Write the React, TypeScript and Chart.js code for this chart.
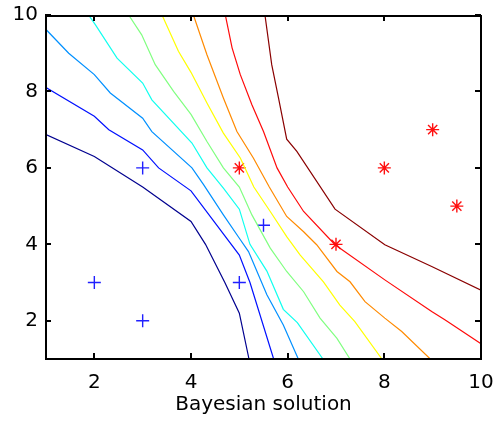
import React, { useEffect, useRef } from "react";
import { Chart, registerables } from "chart.js";

Chart.register(...registerables);

const xTicks = [2, 4, 6, 8, 10];
const yTicks = [2, 4, 6, 8, 10];
const xLabel = "Bayesian solution";

const classA = [[2, 3], [3, 2], [3, 6], [5, 3], [5.5, 4.5]];
const classB = [[5, 6], [7, 4], [8, 6], [9, 7], [9.5, 5]];

const contour1 = [[1, 6.87], [2, 6.3], [3, 5.5], [4, 4.6], [4.3, 4.0], [4.7, 3.0], [5, 2.2], [5.2, 1.0]];
const contour2 = [[1, 8.1], [2, 7.35], [2.3, 7.0], [3, 6.47], [3.33, 6.0], [4, 5.4], [5, 3.72], [5.22, 3.0], [5.71, 1.0]];
const contour3 = [[1, 9.62], [1.47, 9.0], [2, 8.44], [2.33, 7.96], [3, 7.3], [3.19, 6.95], [4.02, 6.0], [4.26, 5.56], [4.67, 4.77], [5, 4.16], [5.19, 3.81], [5.57, 2.68], [5.91, 1.89], [6.22, 1.0]];
const contour4 = [[1.88, 10], [2.02, 9.75], [2.47, 8.87], [3, 8.22], [3.19, 7.78], [4.02, 6.65], [4.33, 6.0], [4.67, 5.47], [5, 4.92], [5.22, 4.0], [5.57, 3.3], [5.91, 2.3], [6.2, 1.95], [6.73, 1.0]];
const contour5 = [[2.71, 10], [2.98, 9.48], [3.26, 8.7], [3.64, 8.0], [4.0, 7.4], [4.33, 6.69], [4.67, 6.0], [5.0, 5.5], [5.26, 4.77], [5.64, 3.9], [5.98, 3.29], [6.33, 2.76], [6.67, 2.07], [7.02, 1.54], [7.29, 1.0]];
const contour6 = [[3.4, 10], [3.74, 9.05], [4.0, 8.5], [4.33, 7.7], [4.67, 6.91], [5.02, 6.26], [5.3, 5.5], [5.64, 4.86], [5.98, 4.2], [6.26, 3.72], [6.74, 3.02], [7.08, 2.41], [7.39, 1.98], [7.95, 1.0]];
const contour7 = [[4.05, 10], [4.33, 8.96], [4.67, 7.83], [4.95, 6.95], [5.29, 6.26], [5.62, 5.5], [5.98, 4.73], [6.33, 4.33], [6.6, 3.99], [7.02, 3.29], [7.29, 3.02], [7.6, 2.5], [8.01, 2.07], [8.36, 1.72], [8.95, 1.0]];
const contour8 = [[4.71, 10], [4.85, 9.14], [5.02, 8.44], [5.26, 7.65], [5.5, 6.95], [5.78, 6.0], [6.0, 5.5], [6.33, 4.86], [6.98, 3.99], [8.01, 3.07], [8.98, 2.24], [9.26, 2.02], [10, 1.4]];
const contour9 = [[5.53, 10], [5.67, 8.7], [5.81, 7.83], [5.98, 6.75], [6.19, 6.43], [6.98, 4.92], [8.01, 3.99], [8.98, 3.42], [10, 2.8]];

const contours = [contour1, contour2, contour3, contour4, contour5, contour6, contour7, contour8, contour9];
const contourColors = ["#00008f", "#0010ff", "#0090ff", "#10ffef", "#80ff80", "#ffff00", "#ff8a00", "#ff0a0a", "#8a0000"];

const FONT = "'DejaVu Sans', 'Liberation Sans', Arial, sans-serif";
const INK = "rgb(0,0,0)";

function drawFrame(chart: any) {
  const ctx = chart.ctx;
  const area = chart.chartArea;
  const xs = chart.scales.x;
  const ys = chart.scales.y;
  const L = Math.round(area.left) - 1;
  const R = Math.round(area.right) - 1;
  const T = Math.round(area.top);
  const B = Math.round(area.bottom) - 1;
  const len = 5;
  ctx.save();
  ctx.fillStyle = INK;
  ctx.fillRect(L, T, R - L + 2, 2);
  ctx.fillRect(L, B, R - L + 2, 2);
  ctx.fillRect(L, T, 2, B - T + 2);
  ctx.fillRect(R, T, 2, B - T + 2);
  xTicks.forEach((v) => {
    const p = Math.round(xs.getPixelForValue(v)) - 1;
    ctx.fillRect(p, B - len, 2, len);
    ctx.fillRect(p, T, 2, len + 1);
  });
  yTicks.forEach((v) => {
    const p = Math.round(ys.getPixelForValue(v)) - 1;
    ctx.fillRect(L, p, len + 1, 2);
    ctx.fillRect(R - len, p, len + 1, 2);
  });
  ctx.restore();
}

export default function App() {
  const ref = useRef<HTMLCanvasElement>(null);
  useEffect(() => {
    const toPts = (arr: number[][]) => arr.map(([x, y]) => ({ x, y }));
    const datasets: any[] = contours.map((c, i) => ({
      data: toPts(c),
      showLine: true,
      borderColor: contourColors[i],
      borderWidth: 1.2,
      pointRadius: 0,
      fill: false,
      tension: 0,
    }));
    datasets.push({
      data: toPts(classA),
      showLine: false,
      pointStyle: "cross",
      pointRadius: 6.5,
      borderColor: "#2020ff",
      borderWidth: 1.4,
      backgroundColor: "transparent",
    });
    datasets.push({
      data: toPts(classB),
      showLine: false,
      pointStyle: "star",
      pointRadius: 6.5,
      borderColor: "#ff1010",
      borderWidth: 1.4,
      backgroundColor: "transparent",
    });
    const chart = new Chart(ref.current!, {
      type: "scatter",
      data: { datasets },
      options: {
        animation: false,
        responsive: false,
        maintainAspectRatio: false,
        layout: { padding: { left: 0, right: 19, top: 15, bottom: 0 } },
        plugins: { legend: { display: false }, tooltip: { enabled: false } },
        scales: {
          x: {
            type: "linear",
            min: 1,
            max: 10,
            grid: { display: false, drawTicks: false },
            border: { display: true, color: INK, width: 1.5 },
            afterBuildTicks: (s: any) => {
              s.ticks = xTicks.map((v) => ({ value: v }));
            },
            afterFit: (s: any) => {
              s.height = 62;
              s.paddingLeft = 0;
              s.paddingRight = 0;
            },
            ticks: {
              color: "#000",
              font: { family: FONT, size: 20 },
              padding: 12,
              maxRotation: 0,
              autoSkip: false,
            },
            title: {
              display: true,
              text: xLabel,
              color: "#000",
              font: { family: FONT, size: 20 },
              padding: { top: 0, bottom: 4 },
            },
          },
          y: {
            type: "linear",
            min: 1,
            max: 10,
            grid: { display: false, drawTicks: false },
            border: { display: true, color: INK, width: 1.5 },
            afterBuildTicks: (s: any) => {
              s.ticks = yTicks.map((v) => ({ value: v }));
            },
            afterFit: (s: any) => {
              s.width = 46;
              s.paddingTop = 0;
              s.paddingBottom = 0;
            },
            ticks: {
              color: "#000",
              font: { family: FONT, size: 20 },
              padding: 8,
              autoSkip: false,
            },
          },
        },
      },
      plugins: [
        {
          id: "frameTicks",
          afterDraw: (c: any) => drawFrame(c),
        },
      ],
    });
    return () => chart.destroy();
  }, []);
  return (
    <div style={{ position: "fixed", left: 0, top: 0, width: 500, height: 421, background: "#fff" }}>
      <canvas ref={ref} width={500} height={421} />
    </div>
  );
}
